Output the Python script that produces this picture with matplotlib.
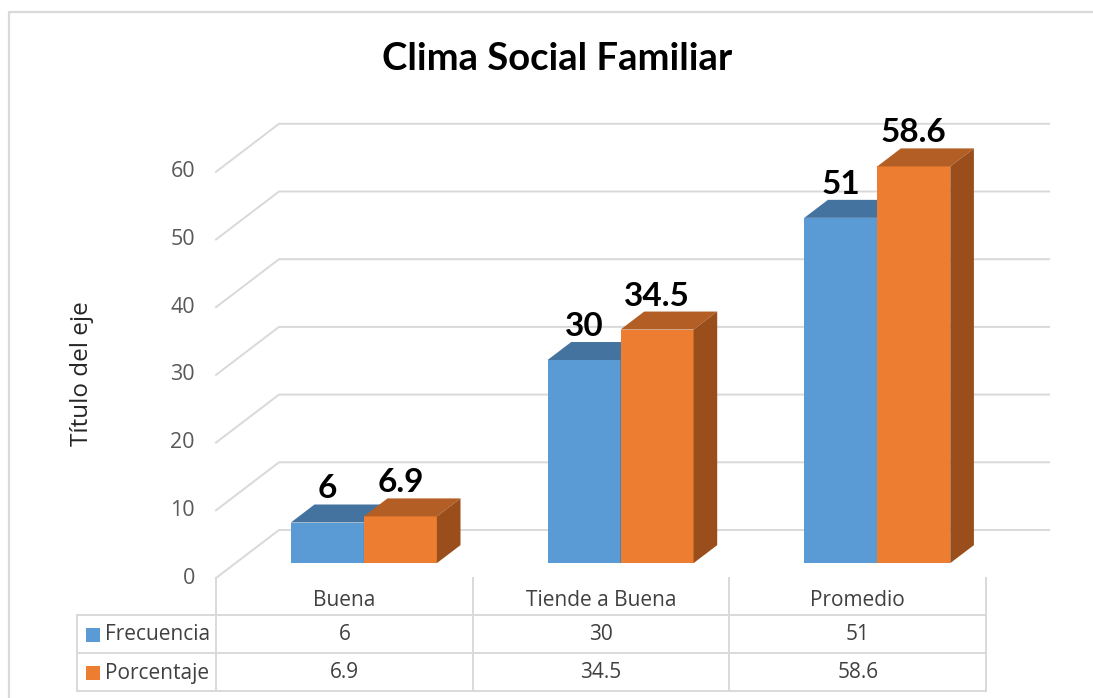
import numpy as np
import matplotlib.pyplot as plt
from matplotlib.patches import Polygon, Rectangle

categories = ["Buena", "Tiende a Buena", "Promedio"]
frecuencia = [6, 30, 51]
porcentaje = [6.9, 34.5, 58.6]
series_names = ["Frecuencia", "Porcentaje"]
yticks = [0, 10, 20, 30, 40, 50, 60]

front_colors = ["#5B9BD5", "#ED7D31"]
top_colors = ["#44739F", "#B35E24"]
side_colors = ["#3C6690", "#9A4E1C"]
grid_c = "#D9D9D9"

W, H = 1093, 698
fig = plt.figure(figsize=(W / 100, H / 100), dpi=100)
ax = fig.add_axes([0, 0, 1, 1])
ax.axis("off")

# pixel layout of the front plane: category units on x, values on y
x0_px, cat_px = 216, 256.7
y0_px, unit_px = 578, 6.77
ax.set_xlim(-x0_px / cat_px, (W - x0_px) / cat_px)
ax.set_ylim(-(H - y0_px) / unit_px, y0_px / unit_px)


def px_x(p):
    return p / cat_px


def px_y(p):
    return p / unit_px


ncat = len(categories)
DX, DY = px_x(63), px_y(48)       # full depth of the floor
z0, zb = 0.31, 0.375              # bar position / thickness in depth
bw = px_x(73)

# chart border
ax.plot([px_x(9 - x0_px)] * 2 + [px_x(W - x0_px + 5)],
        [-px_y(H - y0_px + 5), px_y(y0_px - 12.5), px_y(y0_px - 12.5)],
        color=grid_c, lw=1.6, solid_capstyle="butt")

# walls: gridlines
for t in yticks:
    ax.plot([0, DX, ncat + DX], [t, t + DY, t + DY], color=grid_c, lw=1.4, zorder=1)
    ax.text(-px_x(21), t, str(t), ha="right", va="center", fontsize=15.5,
            color="#595959", family="Open Sans")

ax.text(-px_x(x0_px - 82), px_y(y0_px - 374), "Título del eje", rotation=90,
        ha="center", va="center", fontsize=17.5, color="#262626", family="Open Sans")

# bars
bx, by = zb * DX, zb * DY
for i in range(ncat):
    c = i + 0.5 + z0 * DX
    yb = z0 * DY
    for s, vals in enumerate([frecuencia, porcentaje]):
        v = vals[i]
        xl = c - bw + s * bw
        xr = xl + bw
        yt = yb + v
        ax.add_patch(Rectangle((xl, yb), bw, v, facecolor=front_colors[s],
                               edgecolor="none", zorder=3))
        ax.add_patch(Polygon([(xl, yt), (xr, yt), (xr + bx, yt + by), (xl + bx, yt + by)],
                             closed=True, facecolor=top_colors[s], edgecolor="none", zorder=3))
        ax.add_patch(Polygon([(xr, yb), (xr, yt), (xr + bx, yt + by), (xr + bx, yb + by)],
                             closed=True, facecolor=side_colors[s], edgecolor="none", zorder=3))
        ax.text((xl + xr) / 2, yt + by + px_y(1), f"{v:g}", ha="center", va="bottom",
                fontsize=24, fontweight="bold", color="black", family="Lato", zorder=4)

# title
ax.text(px_x(557 - x0_px), px_y(y0_px - 59), "Clima Social Familiar", ha="center",
        va="center", fontsize=27.5, fontweight="bold", color="black", family="Lato")

# data table
row_h = px_y(38)
left = -px_x(x0_px - 77)
tcol = "#404040"
for k in range(ncat + 1):
    ax.plot([k, k], [0, -3 * row_h + px_y(1)], color=grid_c, lw=1.4)
ax.plot([left, left], [-row_h + px_y(1), -3 * row_h + px_y(1)], color=grid_c, lw=1.4)
for r in range(1, 4):
    yy = -r * row_h + px_y(1)
    ax.plot([left, ncat], [yy, yy], color=grid_c, lw=1.4)

for i, name in enumerate(categories):
    ax.text(i + 0.5, -0.6 * row_h, name, ha="center", va="center", fontsize=15,
            color=tcol, family="Open Sans")
for s, vals in enumerate([frecuencia, porcentaje]):
    ym = -(s + 1.5) * row_h
    for i, v in enumerate(vals):
        ax.text(i + 0.5, ym, f"{v:g}", ha="center", va="center", fontsize=15,
                color=tcol, family="Open Sans")
    ax.add_patch(Rectangle((left + px_x(9), ym - px_y(7)), px_x(14), px_y(14),
                           facecolor=front_colors[s], edgecolor="none"))
    ax.text(left + px_x(28), ym, series_names[s], ha="left", va="center", fontsize=15,
            color=tcol, family="Open Sans")

fig.savefig("out.png", dpi=100)
